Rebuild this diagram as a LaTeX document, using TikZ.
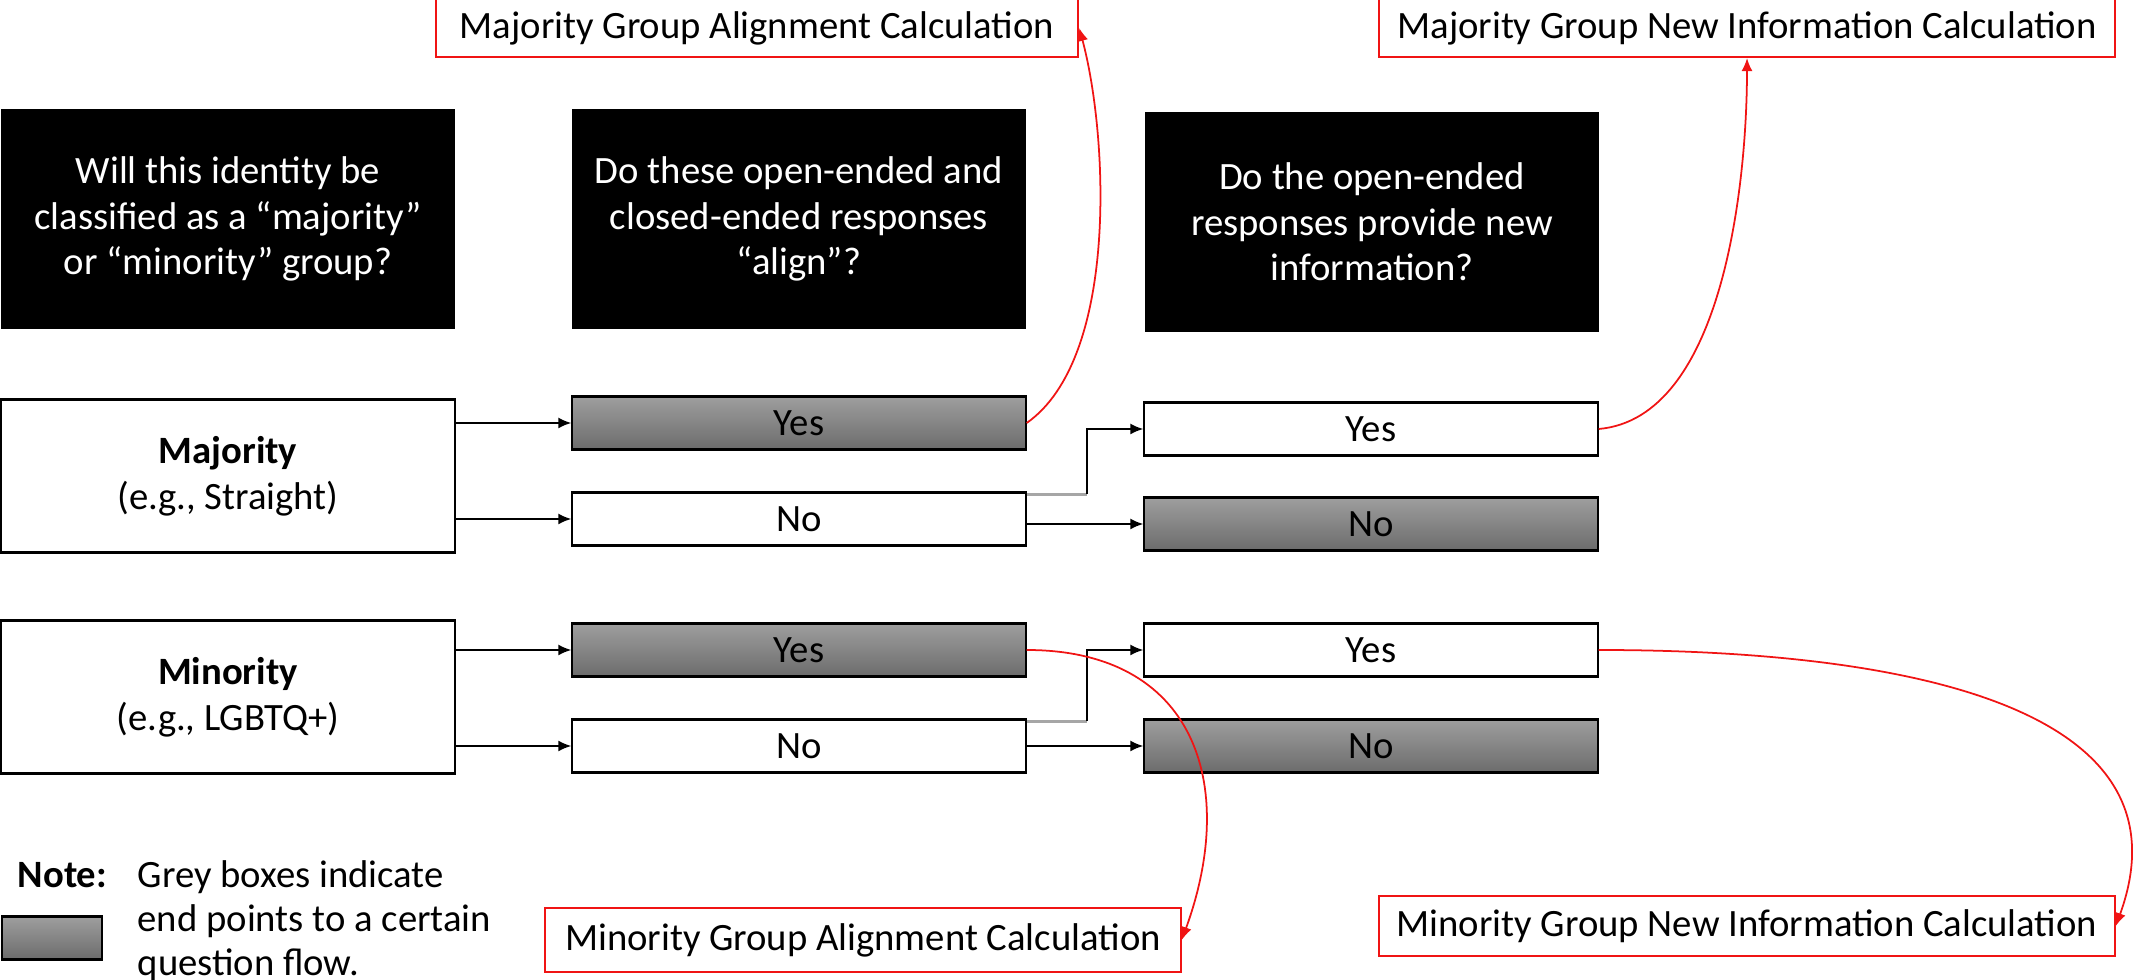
\documentclass[tikz,border=0pt]{standalone}
\usepackage{fontspec}
\setmainfont{Carlito}
\usetikzlibrary{arrows.meta}
\definecolor{endtop}{RGB}{158,158,158}
\definecolor{endbot}{RGB}{108,108,108}
\definecolor{calcred}{RGB}{240,20,20}

\begin{document}
\begin{tikzpicture}[x=0.01cm,y=-0.01cm,
	every node/.style={font=\fontsize{11}{13}\selectfont},
	question/.style={fill=black,text=white,minimum width=4.54cm,minimum height=2.19cm,align=center,inner sep=0pt},
	group/.style={draw,line width=0.6pt,minimum width=4.54cm,minimum height=1.53cm,align=center,inner sep=0pt},
	answer/.style={draw,line width=0.6pt,minimum width=4.53cm,minimum height=0.53cm,inner sep=0pt},
	endpoint/.style={answer,top color=endtop,bottom color=endbot},
	calc/.style={draw=calcred,line width=0.6pt,minimum height=0.58cm,inner sep=0pt},
	flow/.style={-{Latex[length=1.3mm,width=1.1mm]},line width=0.5pt},
	link/.style={-{Latex[length=1.3mm,width=1.1mm]},calcred,line width=0.5pt}]

	\clip (0,0) rectangle (2151,980);

	%The three questions
	\node[question] (q1) at (228,219) {Will this identity be\\classified as a “majority”\\or “minority” group?};
	\node[question] (q2) at (799,219) {Do these open-ended and\\closed-ended responses\\“align”?};
	\node[question] (q3) at (1372,222) {Do the open-ended\\responses provide new\\information?};

	%Identity groups
	\node[group] (maj) at (228,476) {\textbf{Majority}\\(e.g., Straight)};
	\node[group] (min) at (228,697) {\textbf{Minority}\\(e.g., LGBTQ+)};

	%Do the responses align
	\node[endpoint] (ya) at (799,423) {Yes};
	\node[answer] (na) at (799,519) {No};
	\node[endpoint] (yb) at (799,650) {Yes};
	\node[answer] (nb) at (799,746) {No};

	%Do they give new information
	\node[answer] (yc) at (1371,429) {Yes};
	\node[endpoint] (nc) at (1371,524) {No};
	\node[answer] (yd) at (1371,650) {Yes};
	\node[endpoint] (nd) at (1371,746) {No};

	%Calculations
	\node[calc,minimum width=6.42cm] (majalign) at (757,28) {Majority Group Alignment Calculation};
	\node[calc,minimum width=7.35cm] (majinfo) at (1747,28) {Majority Group New Information Calculation};
	\node[calc,minimum width=7.35cm,minimum height=0.6cm] (mininfo) at (1747,926) {Minority Group New Information Calculation};
	\node[calc,minimum width=6.35cm,minimum height=0.64cm] (minalign) at (863,940) {Minority Group Alignment Calculation};

	%Legend
	\node[endpoint,minimum width=1.0cm,minimum height=0.43cm] (key) at (52,938) {};
	\node[anchor=base west,inner sep=0pt] (note) at (17,888) {\textbf{Note:}};
	\node[anchor=north west,inner sep=0pt,align=left,font=\fontsize{11}{12.5}\selectfont] (keytext) at (137,860) {Grey boxes indicate\\end points to a certain\\question flow.};

	%Group to first answer
	\draw[flow] (maj.east |- ya.west) -- (ya.west);
	\draw[flow] (maj.east |- na.west) -- (na.west);
	\draw[flow] (min.east |- yb.west) -- (yb.west);
	\draw[flow] (min.east |- nb.west) -- (nb.west);

	%No goes on to the next question
	\draw[line width=1pt,gray!70] ([yshift=-0.3mm]na.north east) -- ++(60,0) coordinate (ka);
	\draw[flow] (ka) |- (yc.west);
	\draw[flow] (na.east |- nc.west) -- (nc.west);
	\draw[line width=1pt,gray!70] ([yshift=-0.3mm]nb.north east) -- ++(60,0) coordinate (kb);
	\draw[flow] (kb) |- (yd.west);
	\draw[flow] (nb.east |- nd.west) -- (nd.west);

	%Links to the calculations
	\draw[link] (ya.east) to[out=35,in=-75,looseness=0.72] (majalign.east);
	\draw[link] (yc.east) to[out=5,in=-90,looseness=0.8] (majinfo.south);
	\draw[link] (yb.east) to[out=0,in=70,looseness=1.3] (minalign.east);
	\draw[link] (yd.east) to[out=0,in=70,looseness=1.1] (mininfo.east);

\end{tikzpicture}
\end{document}
